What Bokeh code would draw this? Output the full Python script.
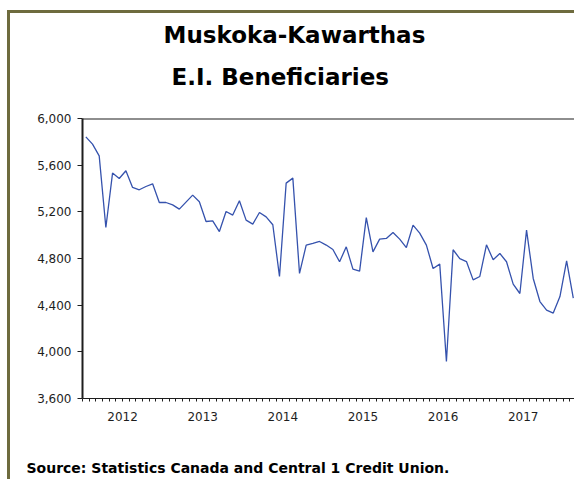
from bokeh.plotting import figure
from bokeh.models import (Range1d, LinearAxis, FixedTicker, NumeralTickFormatter,
                          Span, Title)
from bokeh.embed import file_html
from bokeh.resources import INLINE

# ---- data (monthly, Jan 2012 - Feb 2018) ----
start_year = 2012
values = [5843, 5780, 5680, 5066, 5532, 5486, 5552, 5409, 5389, 5417, 5440, 5280,
          5280, 5260, 5223, 5283, 5343, 5286, 5117, 5123, 5031, 5203, 5172, 5295,
          5129, 5095, 5194, 5157, 5089, 4646, 5446, 5489, 4672, 4915, 4929, 4946,
          4915, 4877, 4772, 4900, 4709, 4692, 5151, 4857, 4966, 4972, 5023, 4966,
          4894, 5086, 5017, 4915, 4714, 4752, 3917, 4875, 4799, 4774, 4617, 4646,
          4917, 4789, 4843, 4772, 4580, 4500, 5043, 4629, 4431, 4358, 4332, 4474,
          4780, 4461]
years = [2012, 2013, 2014, 2015, 2016, 2017]
y_ticks = [3600, 4000, 4400, 4800, 5200, 5600, 6000]
title_lines = ["Muskoka-Kawarthas", "E.I. Beneficiaries"]
source_text = "Source: Statistics Canada and Central 1 Credit Union."

# month index -> fractional year at mid-month
xs = [start_year + (i + 0.5) / 12 for i in range(len(values))]
n_months = len(values)
x_end = start_year + (n_months + 0.13) / 12

FONT = "DejaVu Sans"
DARK = "#1e1e1e"
OLIVE = "#6e6b3e"

p = figure(width=567, height=469, output_backend="svg", toolbar_location=None,
           x_range=Range1d(start_year, x_end),
           y_range=Range1d(y_ticks[0], y_ticks[-1]),
           min_border_left=72, min_border_right=0, min_border_top=105,
           min_border_bottom=84)
p.styles = {"border-left": f"3px solid {OLIVE}", "border-top": f"3px solid {OLIVE}",
            "margin-left": "7px", "margin-top": "10px"}
p.grid.visible = False
p.outline_line_color = None
p.background_fill_color = "white"
p.border_fill_color = "white"

p.line(xs, values, line_color="#3552ad", line_width=1.3)

# y axis
ya = p.yaxis[0]
ya.ticker = FixedTicker(ticks=y_ticks)
ya.formatter = NumeralTickFormatter(format="0,0")
ya.axis_line_color = DARK
ya.axis_line_width = 2
ya.major_tick_line_color = DARK
ya.major_tick_out = 5
ya.major_tick_in = 0
ya.minor_tick_line_color = None
ya.major_label_standoff = 6
ya.major_label_text_font = FONT
ya.major_label_text_font_size = "12px"
ya.major_label_text_color = DARK

# x axis: year labels at mid-year, monthly minor ticks
month_bounds = [start_year + k / 12 for k in range(n_months + 1)]
xa = p.xaxis[0]
xa.ticker = FixedTicker(ticks=[y + 0.5 for y in years], minor_ticks=month_bounds)
xa.major_label_overrides = {y + 0.5: str(y) for y in years}
xa.major_tick_line_color = None
xa.major_tick_out = 0
xa.major_tick_in = 0
xa.minor_tick_line_color = DARK
xa.minor_tick_out = 3
xa.minor_tick_in = 0
xa.axis_line_color = DARK
xa.axis_line_width = 1
xa.major_label_standoff = 10
xa.major_label_text_font = FONT
xa.major_label_text_font_size = "12px"
xa.major_label_text_color = DARK

# longer ticks at year boundaries
xb = LinearAxis(ticker=FixedTicker(ticks=years + [years[-1] + 1], minor_ticks=[]),
                fixed_location=y_ticks[0], axis_line_color=None,
                major_tick_line_color=DARK, major_tick_out=6, major_tick_in=0,
                minor_tick_line_color=None, major_label_text_font_size="0px",
                major_label_text_color=None)
p.add_layout(xb, "below")

# top frame line
p.add_layout(Span(location=y_ticks[-1], dimension="width", line_color=DARK, line_width=2))


def gap(px):
    # axis with a single white tick at the right edge: only reserves vertical space
    return LinearAxis(ticker=FixedTicker(ticks=[x_end], minor_ticks=[]),
                      major_label_overrides={x_end: ""},
                      axis_line_color=None, major_tick_line_color="white",
                      major_tick_out=px, major_tick_in=0,
                      minor_tick_line_color=None, minor_tick_out=0, minor_tick_in=0,
                      major_label_standoff=0, major_label_text_font_size="1px",
                      major_label_text_color="white")


def title_line(txt, off, size):
    return Title(text=txt, align="left", offset=off, standoff=0,
                 text_font=FONT, text_font_size=size, text_font_style="bold",
                 text_color="black")


# titles above (first added = closest to the plot)
p.add_layout(gap(29), "above")
p.add_layout(title_line(title_lines[1], 89, "23px"), "above")
p.add_layout(gap(14), "above")
p.add_layout(title_line(title_lines[0], 81, "23px"), "above")

# source note below the axes
p.add_layout(gap(34), "below")
p.add_layout(title_line(source_text, -56, "14px"), "below")

open("out.html", "w").write(file_html(p, INLINE))
